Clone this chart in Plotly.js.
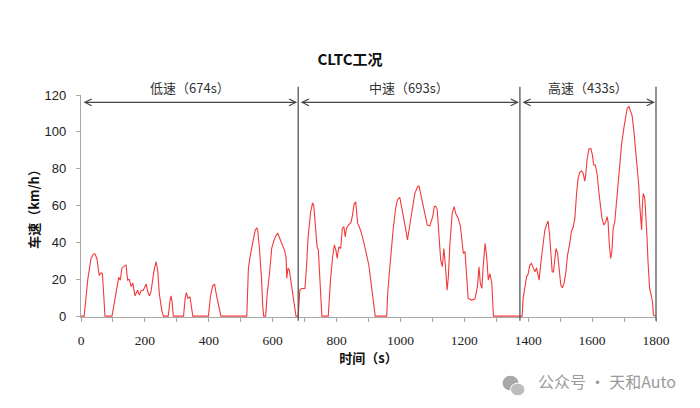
<!DOCTYPE html>
<html>
<head>
<meta charset="utf-8">
<script src="https://cdn.plot.ly/plotly-3.0.1.min.js"></script>
<style>html,body{margin:0;padding:0;background:#fff;}#chart{width:700px;height:408px;}</style>
</head>
<body>
<div id="chart"></div>
<script>
// ---- data ----
const timeSec = [0,10,21,31,39,44,50,54,57,63,67,71,75,97,110,118,123,128,134,141,146,151,157,162,169,177,183,188,195,204,209,214,219,228,235,240,245,253,258,273,279,282,285,289,321,326,330,335,341,347,350,399,405,412,418,424,430,433,438,519,524,531,538,545,550,553,558,565,569,572,578,583,590,597,604,611,616,621,628,637,642,644,648,652,657,663,669,673,
  680,685,690,701,706,711,719,725,729,734,739,743,746,750,754,774,777,781,787,793,798,802,807,813,818,823,827,831,837,845,850,855,860,863,866,871,878,886,894,901,907,913,918,921,957,960,965,970,977,985,991,998,1004,1011,1017,1022,1030,1038,1045,1054,1058,1063,1069,1077,1084,1092,1101,1106,1110,1115,1120,1126,1131,1136,1141,1146,1150,1155,1162,1168,1173,1181,1188,1194,1197,1202,1207,1212,1223,1233,1241,1246,1250,1255,1259,1265,1270,1275,1280,1286,1291,
  1381,1384,1390,1395,1400,1405,1410,1416,1421,1426,1431,1434,1440,1445,1452,1457,1462,1467,1471,1475,1479,1483,1487,1492,1497,1502,1507,1512,1518,1523,1530,1535,1541,1546,1551,1556,1561,1567,1572,1577,1580,1584,1590,1596,1601,1605,1610,1616,1621,1628,1631,1637,1643,1647,1650,1654,1658,1662,1666,1671,1676,1683,1692,1700,1705,1710,1715,1720,1725,1731,1736,1741,1746,1749,1752,1755,1757,1760,1765,1768,1772,1775,1780,1785,1789,1792,1796,1800];
const speedKmh = [0,0,19.5,31,33.7,33.7,31,26,22,23.5,23,12,0,0,12,21,19.5,26,27,27.7,19.5,20,16,18,11,14,11.4,13.8,14,17.4,13.2,11,13,24,29.5,25,12.3,3,0,0,8.7,11,7.8,0,0,9.6,12.7,9.6,10.5,3,0,0,10.5,16.3,17.4,11.4,6,3,0,0,25.9,34,41,46.3,48,46.7,37.6,21,5,0,0,12.3,23,36.7,41,44,44.9,43,39.5,35.8,32,20.5,26,25,19.5,12.3,4,0,
  0,14,15,15,26.8,43,56.7,61.5,59.4,48.5,37.6,35.8,26.8,10.5,0,0,10.5,19.5,31,38.6,35.8,31.3,37.6,36.7,47.6,48.5,43,47.6,49.4,50.7,54.8,60.8,62,57.6,50.3,48.5,45,39.5,34,27.7,19.5,10.5,1.4,0,0,12.3,23,34,46.7,58.5,63.3,64.4,59.4,52,46.7,41.3,50.3,59.4,66.6,70.2,70.6,66.6,61.2,54,49.4,49,54,59.4,59.7,58,43,30.4,26.8,36.7,26.8,14,21.4,39.5,55.7,59.4,55.7,53,48.5,37.6,34,35,21.4,9.6,8.7,9.2,16,26.8,17.7,15,26.8,39.5,32.2,19.5,23,17.7,0,
  0,9.6,16.8,21.4,23,27.7,28.6,25.9,24,26.2,23,19.5,29.5,37.6,46.7,49.4,51.6,44,33,24,24,33,36.7,34,24,16.8,15.4,17.7,24,33,39.5,45.8,48.5,53,65.7,74.7,78,78.7,77.5,73.3,76.6,84.7,90.7,91,87.4,82,82,76.6,67.5,56.7,53,49.4,51.2,54,51.2,38.6,31.3,35,47.6,51.2,60.3,74.7,92.8,102.8,109,112.8,113.7,111,109,100,91,78.4,71,60.3,49.4,46.7,58.5,66.6,63.9,56.7,42.2,29.5,15,11.4,7.8,0.5,0,0];

const segStarts = [0, 680, 1374];
const segEnds = [680, 1374, 1800];
const segLabels = ['低速（674s）', '中速（693s）', '高速（433s）'];
const xTickVals = [0,100,200,300,400,500,600,700,800,900,1000,1100,1200,1300,1400,1500,1600,1700,1800];
const xTickText = ['0','','200','','400','','600','','800','','1000','','1200','','1400','','1600','','1800'];
const yTickVals = [0,20,40,60,80,100,120];

const xMax = 1800;
const yMax = 120;
const arrowY = 116;
const labelY = 124;
const dividerTop = 124.5;
const dividerBottom = -2;

// ---- traces ----
const traces = [{
  x: timeSec, y: speedKmh, type: 'scatter', mode: 'lines',
  line: {color: '#f23a3a', width: 1.1}, hoverinfo: 'skip'
}];

// ---- divider lines (paper refs so they are not clipped) ----
const shapes = segEnds.map(function (b) {
  return {
    type: 'line', xref: 'paper', yref: 'paper',
    x0: b / xMax, x1: b / xMax, y0: dividerBottom / yMax, y1: dividerTop / yMax,
    line: {color: '#555555', width: 1.3}
  };
});
// WeChat-like icon next to watermark
shapes.push({type: 'circle', xref: 'paper', yref: 'paper', x0: 0.733, x1: 0.761, y0: -0.33, y1: -0.265, fillcolor: '#a8a8a8', line: {width: 0}});
shapes.push({type: 'circle', xref: 'paper', yref: 'paper', x0: 0.747, x1: 0.772, y0: -0.355, y1: -0.298, fillcolor: '#bdbdbd', line: {color: '#ffffff', width: 1}});

// ---- annotations ----
const annotations = [];
segStarts.forEach(function (s, i) {
  const e = segEnds[i];
  annotations.push({
    x: e, y: arrowY, ax: s, ay: arrowY, xref: 'x', yref: 'y', axref: 'x', ayref: 'y',
    text: '', showarrow: true, arrowhead: 5, startarrowhead: 5, arrowside: 'end+start',
    arrowsize: 1.2, startarrowsize: 1.2, arrowwidth: 1.1, arrowcolor: '#444444',
    standoff: 1, startstandoff: 1
  });
  annotations.push({
    x: (s + e) / 2 / xMax, y: labelY / yMax, xref: 'paper', yref: 'paper', text: segLabels[i], showarrow: false,
    xanchor: 'center', yanchor: 'middle',
    font: {family: 'Noto Sans CJK SC, sans-serif', size: 13, color: '#333333'}
  });
});
annotations.push({
  x: 1, y: 0, xref: 'paper', yref: 'paper', xshift: 22, yshift: -64, xanchor: 'right', yanchor: 'middle',
  text: '公众号 · 天和Auto', showarrow: false,
  font: {family: 'Noto Sans CJK SC, sans-serif', size: 16, color: '#9a9a9a'}
});

const layout = {
  width: 700, height: 408,
  margin: {l: 81, r: 44, t: 95, b: 91},
  paper_bgcolor: '#ffffff', plot_bgcolor: '#ffffff',
  showlegend: false,
  title: {
    text: '<b>CLTC工况</b>', x: 0.5, xref: 'container', y: 0.853, yref: 'container', yanchor: 'middle',
    font: {family: 'Noto Sans CJK SC, sans-serif', size: 15, color: '#111111'}
  },
  xaxis: {
    range: [0, xMax], tickmode: 'array', tickvals: xTickVals, ticktext: xTickText,
    showgrid: false, zeroline: false, showline: true, linecolor: '#a8a8a8', linewidth: 1.2,
    ticks: 'outside', ticklen: 4, tickcolor: '#a8a8a8', ticklabelstandoff: 7,
    tickfont: {family: "'Liberation Serif', 'DejaVu Serif', serif", size: 13.5, color: '#222222'},
    layer: 'below traces',
    title: {text: '<b>时间（s）</b>', standoff: 2, font: {family: 'Noto Sans CJK SC, sans-serif', size: 13, color: '#111111'}}
  },
  yaxis: {
    range: [-0.5, yMax], tickmode: 'array', tickvals: yTickVals,
    showgrid: false, zeroline: false, showline: true, linecolor: '#a8a8a8', linewidth: 1.2,
    ticks: 'outside', ticklen: 4, tickcolor: '#a8a8a8', ticklabelstandoff: 7,
    tickfont: {family: 'Liberation Sans, Arial, sans-serif', size: 13, color: '#222222'},
    layer: 'below traces',
    title: {text: '<b>车速（km/h）</b>', standoff: 2, font: {family: 'Noto Sans CJK SC, sans-serif', size: 13, color: '#111111'}}
  },
  annotations: annotations,
  shapes: shapes
};

Plotly.newPlot('chart', traces, layout, {displayModeBar: false, staticPlot: true});
</script>
</body>
</html>
